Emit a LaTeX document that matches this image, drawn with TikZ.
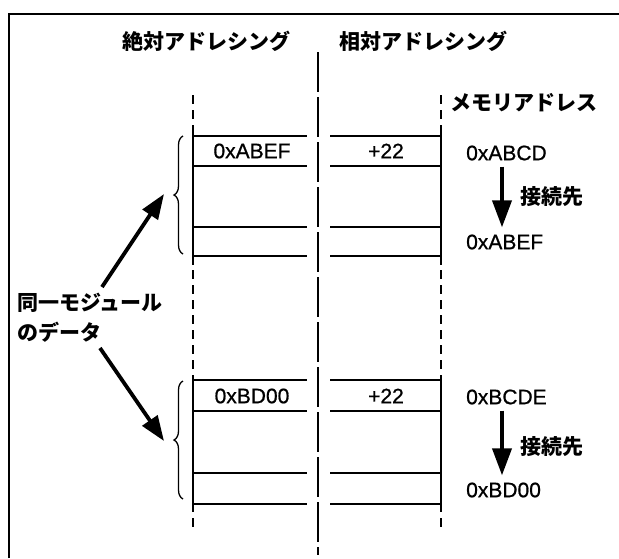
\documentclass[tikz,border=0pt]{standalone}
\usepackage{fontspec}
\setmainfont{Liberation Sans}
\newfontfamily\latf{Liberation Sans}[FakeBold=0.8]
\newfontfamily\jp{Noto Sans CJK JP}
\usetikzlibrary{arrows.meta,decorations.pathreplacing}
\begin{document}
\begin{tikzpicture}[x=1pt,y=-1pt,
  lat/.style={font=\latf\fontsize{21}{25}\selectfont, inner sep=0pt},
  jpt/.style={font=\jp\bfseries\fontsize{21}{30}\selectfont, inner sep=0pt},
  frameline/.style={line width=1.8pt},
  rowmain/.style={line width=2.6pt},
  rowsub/.style={line width=1.9pt},
  colsolid/.style={line width=2.6pt},
  coldash/.style={line width=2.6pt, dash pattern=on 9pt off 6pt},
  centerline/.style={line width=2.8pt, dash pattern=on 40pt off 5pt},
  bigarrow/.style={line width=3.8pt, -{Triangle[length=27pt,width=19pt]}},
  slantarrow/.style={line width=3.8pt, -{Triangle[length=25pt,width=18pt]}},
  bracestyle/.style={line width=1.3pt, decorate, decoration={brace, amplitude=9pt}}
]
\useasboundingbox (0,0) rectangle (619,558);
% frame
\draw[frameline] (9,558) -- (9,14) -- (619,14);
% titles
\node[jpt] (t1) at (206,41) {絶対アドレシング};
\node[jpt] (t2) at (423,41) {相対アドレシング};
\node[jpt, anchor=west] (mem) at (450,103) {メモリアドレス};
% center line
\draw[centerline] (318,52) -- (318,555);
% column lines
\foreach \x in {193,441}{
  \draw[coldash] (\x,95) -- (\x,127);
  \draw[colsolid] (\x,127) -- (\x,265);
  \draw[coldash] (\x,270) -- (\x,377);
  \draw[colsolid] (\x,377) -- (\x,512);
  \draw[coldash] (\x,518) -- (\x,533);
}
% rows
\foreach \y/\s in {136/rowmain,166/rowsub,227/rowsub,256/rowmain,380/rowmain,411/rowsub,473/rowsub,504/rowmain}{
  \draw[\s] (193,\y) -- (307,\y);
  \draw[\s] (330,\y) -- (441,\y);
}
% table texts
\node[lat] (a1) at (252,151) {0xABEF};
\node[lat] (r1) at (386,151) {+22};
\node[lat] (a2) at (252,396) {0xBD00};
\node[lat] (r2) at (386,396) {+22};
% braces
\draw[bracestyle] (183,254) -- (183,136);
\draw[bracestyle] (183,499) -- (183,381);
% left label
\node[jpt, anchor=west, align=left] (lbl) at (17,318) {同一モジュール\\のデータ};
\coordinate (s1) at (102,287);
\coordinate (e1) at (164,194);
\coordinate (s2) at (100,348);
\coordinate (e2) at (164,441);
\draw[slantarrow] (s1) -- (e1);
\draw[slantarrow] (s2) -- (e2);
% right addresses
\node[lat, anchor=west] (m1) at (466,153) {0xABCD};
\node[jpt, anchor=west] (c1) at (520,197) {接続先};
\node[lat, anchor=west] (m2) at (466,242) {0xABEF};
\node[lat, anchor=west] (m3) at (466,397) {0xBCDE};
\node[jpt, anchor=west] (c2) at (520,447) {接続先};
\node[lat, anchor=west] (m4) at (466,490) {0xBD00};
\coordinate (ax) at (502,0);
\draw[bigarrow, shorten <=6pt, shorten >=7pt] (m1.south -| ax) -- (m2.north -| ax);
\draw[bigarrow, shorten <=6pt, shorten >=7pt] (m3.south -| ax) -- (m4.north -| ax);
\end{tikzpicture}
\end{document}
